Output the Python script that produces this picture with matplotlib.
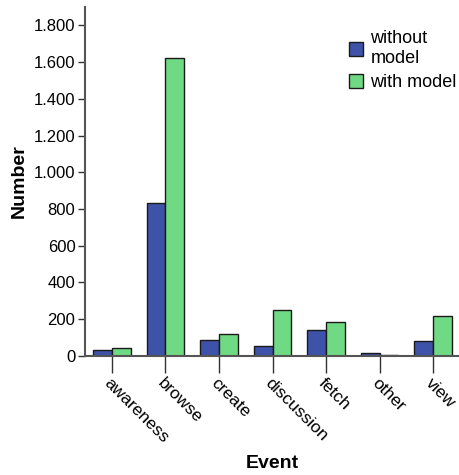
import numpy as np
import matplotlib
matplotlib.use("Agg")
from matplotlib import pyplot as plt
from matplotlib.ticker import FuncFormatter

# data
events = ["awareness", "browse", "create", "discussion", "fetch", "other", "view"]
without_model = [31, 834, 86, 53, 138, 15, 82]
with_model = [42, 1624, 117, 247, 182, 4, 218]
y_ticks = [0, 200, 400, 600, 800, 1000, 1200, 1400, 1600, 1800]

plt.rcParams['font.family'] = ['Liberation Sans', 'DejaVu Sans']

fig = plt.figure(figsize=(4.6, 4.75), dpi=100)
ax = fig.add_axes([0.185, 0.251, 0.815, 0.734])

x = np.arange(len(events))
w = 0.35
ax.bar(x - w / 2, without_model, w, color="#3D52A8", edgecolor="#1a1a1a",
       linewidth=1, label="without\nmodel")
ax.bar(x + w / 2, with_model, w, color="#70D984", edgecolor="#1a1a1a",
       linewidth=1, label="with model")

ax.set_xlim(-0.5, len(events) - 0.5)
ax.set_ylim(0, 1900)
ax.set_yticks(y_ticks)
ax.yaxis.set_major_formatter(FuncFormatter(lambda v, p: f"{int(v):,}".replace(",", ".")))

ax.set_xticks(x)
ax.set_xticklabels(events, rotation=-45, ha="left", va="top",
                   rotation_mode="anchor", fontsize=12.5)
ax.tick_params(axis="x", length=12, width=1, color="#333333", pad=2)
ax.tick_params(axis="y", length=5, width=1, color="#333333", labelsize=12, pad=2)

for s in ["top", "right"]:
    ax.spines[s].set_visible(False)
for s in ["left", "bottom"]:
    ax.spines[s].set_color("#555555")
    ax.spines[s].set_linewidth(1.5)

ax.set_ylabel("Number", fontsize=14, fontweight="bold", labelpad=4)
# x axis title sits at a fixed spot below the rotated labels
fig.text(272 / 460, 1 - 463 / 475, "Event", fontsize=14, fontweight="bold",
         ha="center", va="center")

ax.legend(loc="upper left", bbox_to_anchor=(0.66, 0.98), frameon=False,
          fontsize=13, handlelength=0.8, handleheight=0.8, handletextpad=0.4,
          labelspacing=0.4)

fig.savefig("out.png", dpi=100)
